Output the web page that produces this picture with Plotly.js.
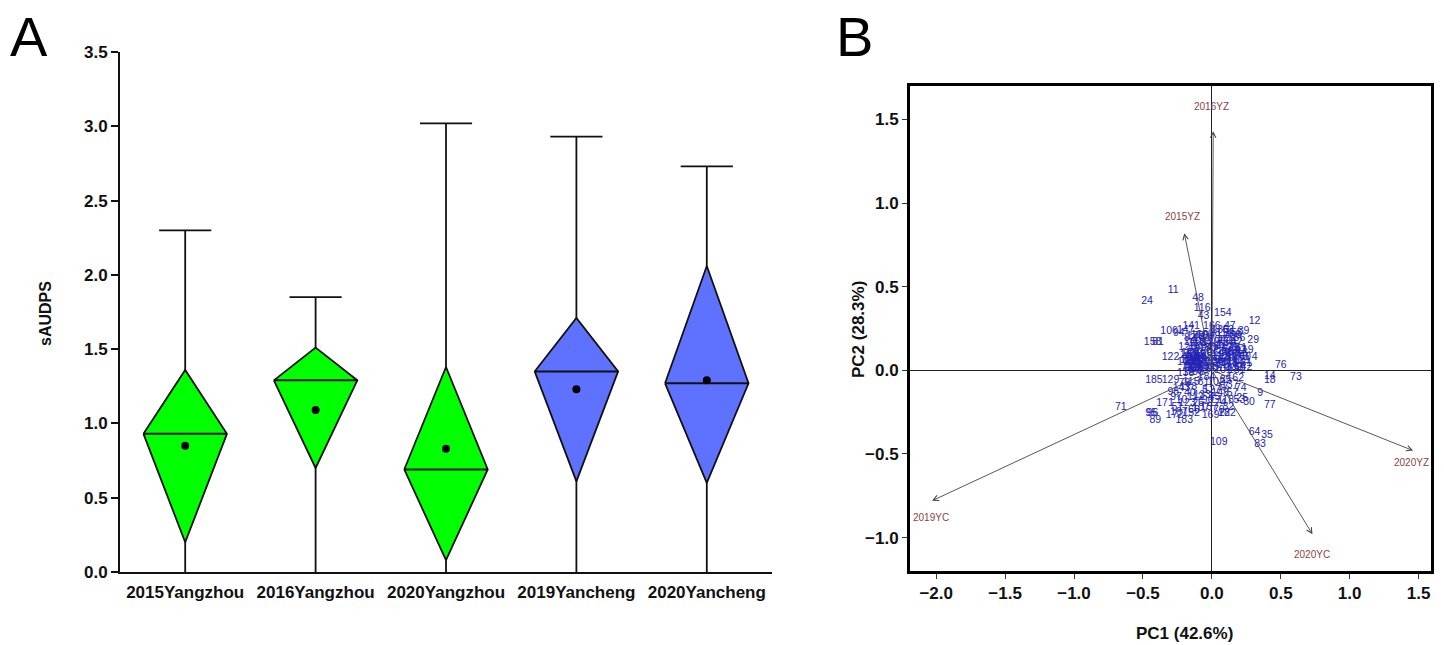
<!DOCTYPE html>
<html>
<head>
<meta charset="utf-8">
<script src="https://cdn.plot.ly/plotly-3.0.1.min.js"></script>
<style>html,body{margin:0;padding:0;background:#fff;}#chart{width:1444px;height:645px;}</style>
</head>
<body>
<div id="chart"></div>
<script>
// ---------- Panel A data ----------
const envs = ["2015Yangzhou", "2016Yangzhou", "2020Yangzhou", "2019Yancheng", "2020Yancheng"];
const envColors = ["#00FF00", "#00FF00", "#00FF00", "#5F72FF", "#5F72FF"];
const whiskMin = [0.0, 0.0, 0.0, 0.0, 0.0];
const whiskMax = [2.30, 1.85, 3.02, 2.93, 2.73];
const diamondTop = [1.36, 1.51, 1.38, 1.71, 2.06];
const diamondMid = [0.93, 1.29, 0.69, 1.35, 1.27];
const diamondBottom = [0.20, 0.70, 0.08, 0.61, 0.60];
const envMean = [0.85, 1.09, 0.83, 1.23, 1.29];

// ---------- Panel B data ----------
const varNames = ["2015YZ", "2016YZ", "2020YZ", "2019YC", "2020YC"];
const varPC1 = [-0.20, 0.01, 1.46, -2.03, 0.73];
const varPC2 = [0.82, 1.43, -0.48, -0.78, -0.98];
const varLabPC1 = [-0.21, 0.00, 1.45, -2.04, 0.73];
const varLabPC2 = [0.92, 1.58, -0.55, -0.88, -1.10];

const genoId = [11,24,48,116,43,154,12,106,141,166,47,39,29,36,38,158,81,94,147,122,128,52,4,19,76,73,14,18,185,129,71,9,77,30,53,25,74,95,96,89,171,183,169,22,109,64,35,83,138,115,172,98,
1,2,3,5,6,7,8,10,13,15,16,17,20,21,23,26,27,28,31,32,33,34,37,40,41,42,44,45,46,49,50,51,54,55,56,57,58,59,60,61,62,63,65,66,67,68,69,70,72,75,78,79,80,82,84,85,86,87,88,90,91,92,93,97,99,100,101,102,103,104,105,107,108,110,111,112,113,114,117,118,119,120,121,123,124,125,126,127,130,131,132,133,134,135,136,137,139,140,142,143,144,145,146,148,149,150,151,152,153,155,156,157,159,160,161,162,163,164,165,167,168,170,173,174,175,176,177,178,179,180,181,182,184];
const genoPC1 = [-0.28,-0.47,-0.10,-0.07,-0.06,0.08,0.31,-0.31,-0.15,0.00,0.13,0.23,0.30,0.20,0.17,-0.43,-0.39,-0.24,-0.19,-0.30,-0.18,-0.14,0.31,0.26,0.50,0.61,0.42,0.42,-0.42,-0.30,-0.66,0.35,0.42,0.27,0.20,0.22,0.21,-0.44,-0.43,-0.41,-0.34,-0.20,-0.01,0.09,0.05,0.31,0.40,0.35,-0.19,-0.15,-0.27,-0.28,
-0.12,0.05,0.12,-0.05,-0.16,0.10,0.18,-0.22,-0.17,-0.10,0.22,0.08,-0.08,0.15,0.06,-0.10,-0.14,0.02,0.25,0.12,-0.11,-0.04,0.14,-0.16,-0.18,0.18,0.03,0.02,-0.06,-0.13,0.20,-0.25,-0.13,0.07,0.09,0.15,-0.09,-0.02,0.24,-0.06,-0.15,0.12,0.01,-0.13,-0.10,-0.08,0.16,0.05,-0.18,0.08,0.11,-0.20,-0.07,-0.16,0.19,0.10,-0.12,0.00,0.04,-0.03,-0.16,0.14,0.21,-0.26,-0.10,-0.05,0.08,0.03,-0.19,0.04,0.17,-0.08,-0.14,-0.11,0.13,-0.12,-0.09,0.09,0.06,0.10,-0.17,-0.01,0.22,-0.18,-0.05,0.13,0.10,0.00,-0.15,-0.07,0.16,-0.07,-0.11,0.06,0.02,0.13,-0.13,-0.14,0.23,-0.22,-0.04,0.10,0.07,0.06,-0.16,-0.03,0.19,-0.15,-0.08,0.16,0.12,-0.02,-0.12,-0.09,0.05,0.17,-0.17,0.03,0.14,-0.24,-0.06,-0.12,0.20,0.04,-0.10,0.11,0.08,-0.17,-0.14,-0.06,0.18,0.11,-0.04];
const genoPC2 = [0.48,0.41,0.43,0.37,0.32,0.34,0.29,0.23,0.26,0.26,0.26,0.23,0.18,0.19,0.21,0.17,0.17,0.22,0.24,0.08,0.14,0.09,0.08,0.12,0.03,-0.04,-0.035,-0.06,-0.06,-0.06,-0.22,-0.14,-0.21,-0.19,-0.18,-0.17,-0.11,-0.255,-0.26,-0.30,-0.20,-0.30,-0.27,-0.26,-0.43,-0.37,-0.39,-0.44,-0.02,-0.07,-0.27,-0.13,
0.05,0.15,0.02,-0.12,0.03,0.20,0.06,-0.18,-0.01,0.18,0.10,-0.10,0.07,0.14,0.04,-0.20,0.06,0.22,0.04,-0.22,0.01,0.16,0.08,-0.14,0.08,0.17,0.09,-0.16,0.03,0.13,0.01,-0.22,0.00,0.12,0.06,-0.14,0.09,0.20,0.08,-0.07,0.08,0.24,0.02,-0.24,0.04,0.14,0.11,-0.24,0.02,0.17,0.10,-0.08,0.00,0.19,0.04,-0.06,0.08,0.12,0.06,-0.18,0.05,0.19,0.12,-0.16,-0.01,0.21,0.00,-0.07,0.05,0.18,0.09,-0.23,0.03,0.16,0.05,-0.16,0.05,0.22,0.08,-0.18,0.06,0.17,0.06,-0.20,0.06,0.13,0.03,-0.12,0.01,0.19,0.02,-0.15,0.07,0.24,0.05,-0.09,0.10,0.17,0.02,-0.11,0.01,0.15,0.10,-0.14,0.10,0.13,0.13,-0.26,0.02,0.22,0.07,-0.22,0.03,0.21,0.01,-0.05,0.09,0.14,0.11,-0.25,0.08,0.20,0.08,-0.20,0.06,0.18,0.04,-0.10,0.05,0.11,0.00,-0.26,-0.04];

// ---------- styles ----------
const diamondHalfWidth = 0.32;
const capHalfWidth = 0.2;
const boldFont = {family: "Liberation Sans, Arial, sans-serif", size: 17, color: "#111", weight: "bold"};
const catFont = {family: "Liberation Sans, Arial, sans-serif", size: 17, color: "#111", weight: "bold"};

const traces = [];
envs.forEach((e, i) => {
  traces.push({
    x: [i, i, null, i - capHalfWidth, i + capHalfWidth],
    y: [whiskMin[i], whiskMax[i], null, whiskMax[i], whiskMax[i]],
    mode: "lines", line: {color: "#111", width: 1.8},
    xaxis: "x", yaxis: "y", hoverinfo: "skip", showlegend: false
  });
  traces.push({
    x: [i - diamondHalfWidth, i, i + diamondHalfWidth, i, i - diamondHalfWidth],
    y: [diamondMid[i], diamondTop[i], diamondMid[i], diamondBottom[i], diamondMid[i]],
    mode: "lines", fill: "toself", fillcolor: envColors[i],
    line: {color: "#111", width: 1.8},
    xaxis: "x", yaxis: "y", hoverinfo: "skip", showlegend: false
  });
  traces.push({
    x: [i - diamondHalfWidth, i + diamondHalfWidth],
    y: [diamondMid[i], diamondMid[i]],
    mode: "lines", line: {color: "#111", width: 2},
    xaxis: "x", yaxis: "y", hoverinfo: "skip", showlegend: false
  });
});
traces.push({
  x: envs.map((e, i) => i), y: envMean,
  mode: "markers", marker: {color: "#000", size: 8},
  xaxis: "x", yaxis: "y", showlegend: false
});

traces.push({
  x: genoPC1, y: genoPC2, text: genoId.map(String),
  mode: "text", textposition: "middle center",
  textfont: {family: "Liberation Sans, Arial, sans-serif", size: 10.5, color: "#2424B4"},
  xaxis: "x2", yaxis: "y2", showlegend: false
});

const annotations = [];
varNames.forEach((v, k) => {
  annotations.push({
    x: varPC1[k], y: varPC2[k], ax: 0, ay: 0,
    xref: "x2", yref: "y2", axref: "x2", ayref: "y2",
    showarrow: true, arrowhead: 5, arrowsize: 1.2, arrowwidth: 0.9,
    arrowcolor: "#444", text: ""
  });
  annotations.push({
    x: varLabPC1[k], y: varLabPC2[k], xref: "x2", yref: "y2",
    text: v, showarrow: false,
    font: {family: "Liberation Sans, Arial, sans-serif", size: 10, color: "#8B4444"}
  });
});
annotations.push({x: 29/1444, y: 1 - 36/645, xref: "paper", yref: "paper", text: "A", showarrow: false,
  font: {family: "Liberation Sans, Arial, sans-serif", size: 56, color: "#000"}, xanchor: "center", yanchor: "middle"});
annotations.push({x: 854/1444, y: 1 - 36/645, xref: "paper", yref: "paper", text: "B", showarrow: false,
  font: {family: "Liberation Sans, Arial, sans-serif", size: 56, color: "#000"}, xanchor: "center", yanchor: "middle"});
annotations.push({x: 45/1444, y: 1 - 314/645, xref: "paper", yref: "paper", text: "sAUDPS", showarrow: false,
  textangle: -90, font: Object.assign({}, boldFont, {size: 16}), xanchor: "center", yanchor: "middle"});
annotations.push({x: 1184/1444, y: 1 - 633/645, xref: "paper", yref: "paper", text: "PC1 (42.6%)", showarrow: false,
  font: boldFont, xanchor: "center", yanchor: "middle"});
annotations.push({x: 858/1444, y: 1 - 330/645, xref: "paper", yref: "paper", text: "PC2 (28.3%)", showarrow: false,
  textangle: -90, font: boldFont, xanchor: "center", yanchor: "middle"});

const layout = {
  width: 1444, height: 645,
  margin: {l: 0, r: 0, t: 0, b: 0},
  paper_bgcolor: "#fff", plot_bgcolor: "#fff",
  showlegend: false,
  xaxis: {
    domain: [120/1444, 772/1444], range: [-0.5, 4.5],
    tickvals: envs.map((e, i) => i), ticktext: envs,
    showgrid: false, zeroline: false, showline: true, linecolor: "#111", linewidth: 2,
    ticks: "outside", ticklen: 4, tickcolor: "rgba(0,0,0,0)", tickfont: catFont, anchor: "y"
  },
  yaxis: {
    domain: [1 - 572/645, 1 - 52/645], range: [0, 3.5],
    tickvals: [0, 0.5, 1, 1.5, 2, 2.5, 3, 3.5], tickformat: ".1f",
    showgrid: false, zeroline: false, showline: true, linecolor: "#111", linewidth: 2,
    ticks: "outside", ticklen: 7, tickwidth: 2, tickcolor: "#111", tickfont: boldFont, anchor: "x"
  },
  xaxis2: {
    domain: [910/1444, 1431/1444], range: [-2.19, 1.59],
    tickvals: [-2, -1.5, -1, -0.5, 0, 0.5, 1, 1.5], tickformat: ".1f",
    showgrid: false, zeroline: true, zerolinecolor: "#222", zerolinewidth: 1,
    showline: true, mirror: true, linecolor: "#000", linewidth: 3,
    ticks: "outside", ticklen: 5, tickwidth: 1, tickcolor: "#333", tickfont: boldFont, anchor: "y2"
  },
  yaxis2: {
    domain: [1 - 571/645, 1 - 86/645], range: [-1.2, 1.70],
    tickvals: [-1, -0.5, 0, 0.5, 1, 1.5], tickformat: ".1f",
    showgrid: false, zeroline: true, zerolinecolor: "#222", zerolinewidth: 1,
    showline: true, mirror: true, linecolor: "#000", linewidth: 3,
    ticks: "outside", ticklen: 5, tickwidth: 1, tickcolor: "#333", tickfont: boldFont, anchor: "x2"
  },
  annotations: annotations
};

Plotly.newPlot("chart", traces, layout, {staticPlot: true, displayModeBar: false});
</script>
</body>
</html>
